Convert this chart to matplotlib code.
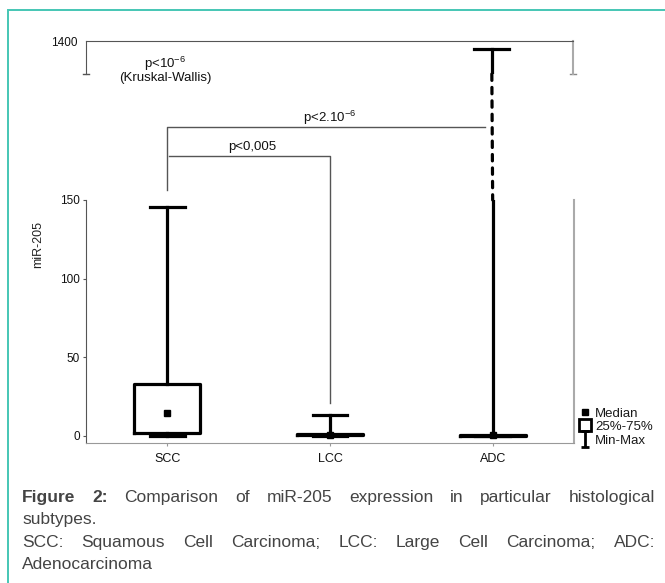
import numpy as np
import matplotlib
matplotlib.use("Agg")
import matplotlib.pyplot as plt
from matplotlib.lines import Line2D
from matplotlib.patches import Rectangle, ConnectionPatch
from matplotlib.path import Path

plt.rcParams['font.family'] = ['Liberation Sans', 'DejaVu Sans']
plt.rcParams['mathtext.fontset'] = 'custom'
plt.rcParams['mathtext.rm'] = 'Liberation Sans'
plt.rcParams['mathtext.it'] = 'Liberation Sans:italic'

# box summary per subtype
categories = ['SCC', 'LCC', 'ADC']
q1 = [1.7, 0.3, 0.2]
q3 = [33.2, 1.5, 0.9]
medians = [14.7, 0.8, 0.5]
mins = [0.0, 0.0, 0.0]
maxs = [145.5, 13.4, 1375.0]

p_kw = 'p<10$^{-6}$'
p_scc_adc = 'p<2.10$^{-6}$'
p_scc_lcc = 'p<0,005'

W, H = 665, 583
fig = plt.figure(figsize=(W / 100, H / 100), dpi=100)


def fx(px):
    return px / W


def fy(py):
    return 1 - py / H


# axes placement in pixels of the original
ax = fig.add_axes([fx(86), fy(443), fx(574) - fx(86), fy(200) - fy(443)])
ax_top = fig.add_axes([fx(86), fy(74), fx(573) - fx(86), fy(41) - fy(74)])

stats = []
for i, c in enumerate(categories):
    stats.append(dict(label=c, med=medians[i], q1=q1[i], q3=q3[i],
                      whislo=mins[i], whishi=maxs[i], fliers=[]))

pos = np.arange(len(categories))
for a in (ax, ax_top):
    a.bxp(stats, positions=pos, widths=0.405, capwidths=0.215,
          showfliers=False,
          boxprops=dict(color='black', linewidth=2.3),
          whiskerprops=dict(color='black', linewidth=2.3),
          capprops=dict(color='black', linewidth=2.3),
          medianprops=dict(linewidth=0))
    a.plot(pos, medians, ls='none', marker='s', ms=4.5, color='black')
    a.set_xlim(-0.5, 2.5)

ax.set_ylim(-4.5, 150)
ax_top.set_ylim(1300, 1400)

# lower axes styling
ax.spines['top'].set_visible(False)
ax.spines['left'].set_color('#555555')
ax.spines['bottom'].set_color('#999999')
ax.spines['right'].set_color('#aaaaaa')
ax.spines['right'].set_linewidth(1.5)
ax.set_yticks([0, 50, 100, 150])
ax.tick_params(axis='y', length=2.5, width=0.8, color='#555555', pad=2,
               labelsize=8.5, labelcolor='#111111')
ax.set_xticks(pos)
ax.set_xticklabels(categories)
ax.tick_params(axis='x', length=2, width=0.8, color='#999999', pad=5,
               labelsize=9, labelcolor='#111111')
fig.text(fx(38), fy(244), 'miR-205', rotation=90, ha='center', va='center',
         fontsize=9, color='#222222')

# upper axes styling
ax_top.spines['bottom'].set_visible(False)
ax_top.spines['left'].set_color('#555555')
ax_top.spines['top'].set_color('#555555')
ax_top.spines['right'].set_color('#aaaaaa')
ax_top.spines['right'].set_linewidth(1.5)
ax_top.set_xticks([])
ax_top.set_yticks([1400])
ax_top.tick_params(axis='y', length=0, pad=6, labelsize=8.5,
                   labelcolor='#111111')
for xa, col in ((0.0, '#555555'), (1.0, '#888888')):
    ax_top.plot([xa - 0.007, xa + 0.007], [0, 0], transform=ax_top.transAxes,
                color=col, lw=1, clip_on=False)

# dashed break of the ADC whisker
con = ConnectionPatch(xyA=(pos[2], 1300), coordsA=ax_top.transData,
                      xyB=(pos[2], 150), coordsB=ax.transData,
                      color='black', lw=2.3, linestyle=(0, (2.0, 2.2)))
fig.add_artist(con)

# significance brackets
tr = ax.get_xaxis_transform()
ax.plot([pos[0], pos[0], pos[2] - 0.045], [1.041, 1.300, 1.300],
        transform=tr, color='#555555', lw=1, clip_on=False)
ax.plot([pos[0] + 0.01, pos[1], pos[1]], [1.181, 1.181, 0.165],
        transform=tr, color='#555555', lw=1, clip_on=False)
ax.text(pos[1], 1.322, p_scc_adc, transform=tr, ha='center', va='baseline',
        fontsize=9.5, color='#111111')
ax.text(0.52, 1.204, p_scc_lcc, transform=tr, ha='center', va='baseline',
        fontsize=9.5, color='#111111')
fig.text(fx(165), fy(68), p_kw, ha='center', va='baseline', fontsize=9.5,
         color='#111111')
fig.text(fx(165), fy(81), '(Kruskal-Wallis)', ha='center', va='baseline',
         fontsize=9.5, color='#111111')

# legend
ipath = Path([(-0.5, 1), (0.5, 1), (0, 1), (0, -1), (-0.5, -1), (0.5, -1)],
             [Path.MOVETO, Path.LINETO, Path.MOVETO, Path.LINETO,
              Path.MOVETO, Path.LINETO])
handles = [
    Line2D([], [], ls='none', marker='s', ms=4, color='black'),
    Line2D([], [], ls='none', marker='s', ms=9, mfc='white', mec='black',
           mew=2),
    Line2D([], [], ls='none', marker=ipath, ms=11, color='black', mew=2),
]
ax.legend(handles, ['Median', '25%-75%', 'Min-Max'], loc='lower left',
          bbox_to_anchor=(1.008, -0.015), frameon=False, fontsize=9.5,
          handlelength=1.0, handletextpad=0.3, borderpad=0, borderaxespad=0,
          labelspacing=0.1, labelcolor='#1a1a1a')

# page border
fig.add_artist(Rectangle((fx(8), -0.1), 2, fy(10) + 0.1,
                         transform=fig.transFigure, fill=False,
                         ec='#45c6b4', lw=1.4))

# caption, justified like the journal page
cap_lines = [
    ([('Figure', 'bold'), ('2:', 'bold'), ('Comparison', 'normal'),
      ('of', 'normal'), ('miR-205', 'normal'), ('expression', 'normal'),
      ('in', 'normal'), ('particular', 'normal'), ('histological', 'normal')],
     502, True),
    ([('subtypes.', 'normal')], 524, False),
    ([('SCC:', 'normal'), ('Squamous', 'normal'), ('Cell', 'normal'),
      ('Carcinoma;', 'normal'), ('LCC:', 'normal'), ('Large', 'normal'),
      ('Cell', 'normal'), ('Carcinoma;', 'normal'), ('ADC:', 'normal')],
     547, True),
    ([('Adenocarcinoma', 'normal')], 569, False),
]
x0, x1 = 22, 655
renderer = fig.canvas.get_renderer()
for words, base, justify in cap_lines:
    texts = [fig.text(fx(x0), fy(base), w, fontsize=12.5, fontweight=wt,
                      color='#444444', va='baseline') for w, wt in words]
    widths = [t.get_window_extent(renderer).width for t in texts]
    if justify and len(texts) > 1:
        gap = (x1 - x0 - sum(widths)) / (len(texts) - 1)
    else:
        gap = 3.5
    x = x0
    for t, w in zip(texts, widths):
        t.set_x(fx(x))
        x += w + gap

fig.savefig('out.png', dpi=100)
